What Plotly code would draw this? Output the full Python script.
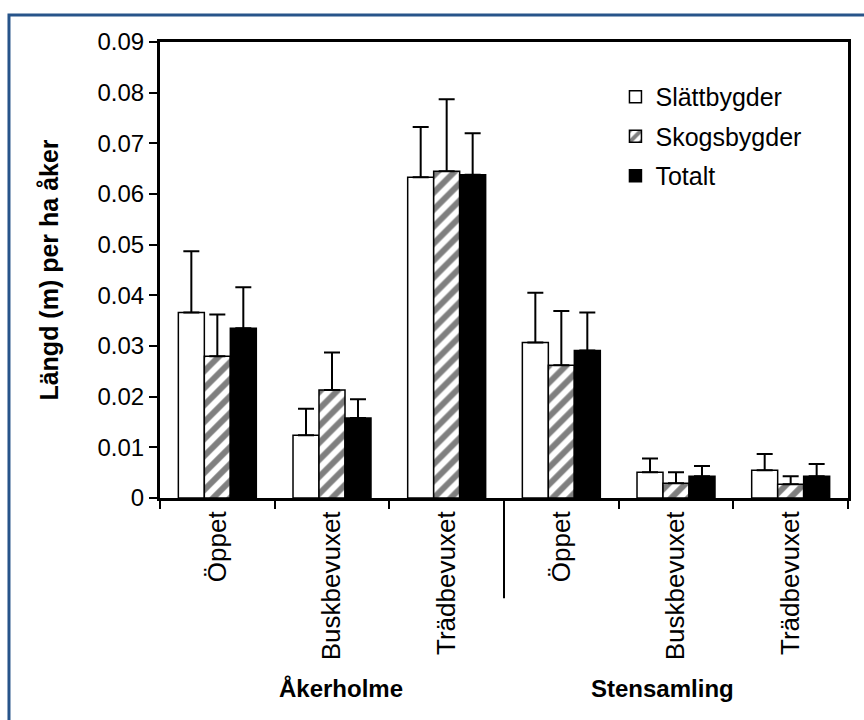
import plotly.graph_objects as go

# ---- data ----
category_keys = ["A_oppet", "A_busk", "A_trad", "S_oppet", "S_busk", "S_trad"]
category_labels = ["Öppet", "Buskbevuxet", "Trädbevuxet", "Öppet", "Buskbevuxet", "Trädbevuxet"]
group_labels = ["Åkerholme", "Stensamling"]

series_names = ["Slättbygder", "Skogsbygder", "Totalt"]
slatt = [0.0366, 0.0124, 0.0633, 0.0307, 0.0051, 0.0055]
slatt_err = [0.0121, 0.0052, 0.0099, 0.0098, 0.0027, 0.0032]
skog = [0.0280, 0.0213, 0.0645, 0.0262, 0.0029, 0.0027]
skog_err = [0.0082, 0.0074, 0.0142, 0.0107, 0.0022, 0.0016]
totalt = [0.0335, 0.0158, 0.0638, 0.0291, 0.0043, 0.0043]
totalt_err = [0.0081, 0.0037, 0.0082, 0.0075, 0.0020, 0.0024]

y_ticks = [0, 0.01, 0.02, 0.03, 0.04, 0.05, 0.06, 0.07, 0.08, 0.09]
y_ticktext = ["0", "0.01", "0.02", "0.03", "0.04", "0.05", "0.06", "0.07", "0.08", "0.09"]

FONT = "Liberation Sans, Arial, sans-serif"

fig = go.Figure()


def add_series(name, vals, errs, fill, pattern):
    fig.add_trace(go.Bar(
        name=name,
        x=category_keys,
        y=vals,
        legendgroup=name,
        marker=dict(
            color=fill,
            line=dict(color="black", width=1.5),
            pattern=pattern,
        ),
        error_y=dict(
            type="data",
            symmetric=False,
            array=errs,
            arrayminus=[0] * len(errs),
            color="black",
            thickness=2,
            width=8,
        ),
    ))


add_series(series_names[0], slatt, slatt_err, "white", dict(shape=""))
add_series(series_names[1], skog, skog_err, "white",
           dict(shape="/", fgcolor="black", bgcolor="white", size=12, solidity=0.5, fillmode="overlay"))
add_series(series_names[2], totalt, totalt_err, "black", dict(shape=""))

fig.update_layout(
    width=864,
    height=720,
    paper_bgcolor="white",
    plot_bgcolor="white",
    margin=dict(l=160, r=16, t=42, b=222),
    barmode="group",
    bargap=0.32,
    bargroupgap=0,
    font=dict(family=FONT, size=24, color="black"),
    showlegend=True,
    legend=dict(
        x=0.662, y=0.93, xanchor="left", yanchor="top",
        bgcolor="rgba(0,0,0,0)",
        font=dict(family=FONT, size=25, color="black"),
        traceorder="grouped",
        tracegroupgap=4,
        itemwidth=30,
    ),
    xaxis=dict(
        type="category",
        categoryorder="array",
        categoryarray=category_keys,
        tickmode="array",
        tickvals=category_keys,
        ticktext=category_labels,
        tickangle=-90,
        tickson="boundaries",
        ticks="outside",
        ticklen=8,
        tickwidth=1.5,
        tickcolor="black",
        showline=True,
        linecolor="black",
        linewidth=3,
        mirror=True,
        showgrid=False,
        tickfont=dict(family=FONT, size=26, color="black"),
    ),
    yaxis=dict(
        range=[0, 0.09],
        tickmode="array",
        tickvals=y_ticks,
        ticktext=y_ticktext,
        ticks="outside",
        ticklen=8,
        tickwidth=1.5,
        tickcolor="black",
        showline=True,
        linecolor="black",
        linewidth=3,
        mirror=True,
        showgrid=False,
        zeroline=False,
        tickfont=dict(family=FONT, size=24, color="black"),
        title=dict(text="<b>Längd (m) per ha åker</b>", standoff=32,
                   font=dict(family=FONT, size=25, color="black")),
    ),
)

# separator between the two groups
fig.add_shape(type="line", xref="x", yref="paper", x0=2.5, x1=2.5, y0=0, y1=-0.22,
              line=dict(color="black", width=2))

# group labels
for gx, gl in zip([0.263, 0.730], group_labels):
    fig.add_annotation(text="<b>" + gl + "</b>", xref="paper", yref="paper",
                       x=gx, y=-0.418, showarrow=False, xanchor="center", yanchor="middle",
                       font=dict(family=FONT, size=24, color="black"))

# outer blue frame (left and top edges visible)
fig.add_shape(type="rect", xref="paper", yref="paper",
              x0=-0.2195, x1=1.2, y0=-0.6, y1=1.059,
              line=dict(color="#27548A", width=3), fillcolor="rgba(0,0,0,0)", layer="below")

fig.write_html("out.html")
